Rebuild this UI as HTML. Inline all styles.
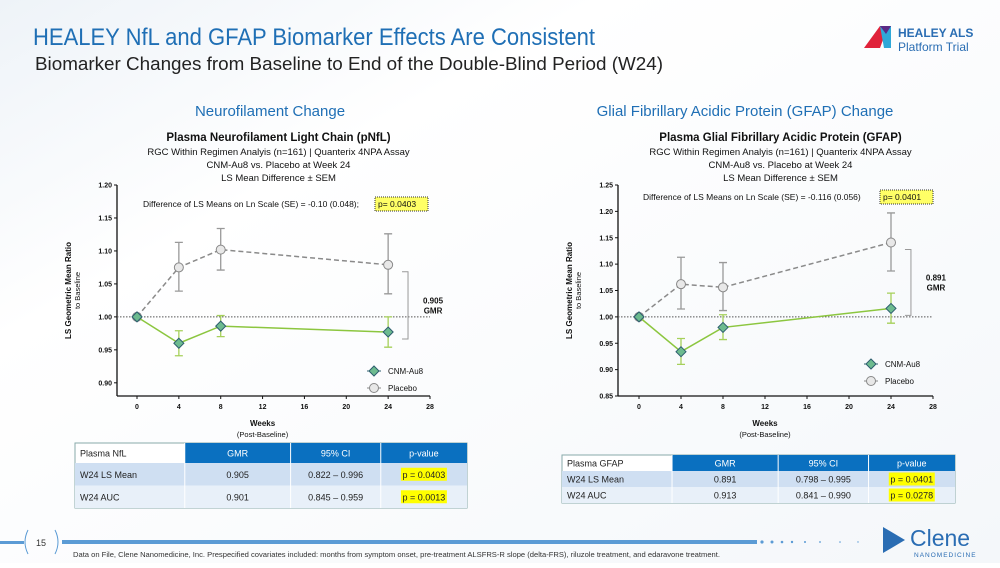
<!DOCTYPE html>
<html><head><meta charset="utf-8"><style>
body{margin:0;width:1000px;height:563px;overflow:hidden;background:#fff;font-family:"Liberation Sans",sans-serif}
svg text{font-family:"Liberation Sans",sans-serif}
</style></head><body>
<svg id="page" width="1000" height="563" viewBox="0 0 1000 563" xmlns="http://www.w3.org/2000/svg">
<defs><linearGradient id="bg" x1="0" y1="0" x2="1" y2="1"><stop offset="0" stop-color="#eef3f8"/><stop offset="0.3" stop-color="#ffffff"/><stop offset="1" stop-color="#f4f7fa"/></linearGradient></defs>
<rect width="1000" height="563" fill="url(#bg)"/>
<text x="33" y="45" font-size="24" fill="#1f6fb5" textLength="562" lengthAdjust="spacingAndGlyphs">HEALEY NfL and GFAP Biomarker Effects Are Consistent</text>
<text x="35" y="70" font-size="18" fill="#222" textLength="628" lengthAdjust="spacingAndGlyphs">Biomarker Changes from Baseline to End of the Double-Blind Period (W24)</text>
<g>
<polygon points="864,48 880,26 888,26 880,48" fill="#e0223a"/><polygon points="880,26 891,26 891,48 884,48" fill="#2fa8d8"/><polygon points="880,26 891,26 886,34" fill="#5b2a86"/>
<text x="898" y="37" font-size="12" font-weight="bold" fill="#2a6db3">HEALEY ALS</text>
<text x="898" y="51" font-size="12" fill="#2a6db3">Platform Trial</text></g>
<text x="270" y="116" font-size="15" fill="#1f6fb5" text-anchor="middle">Neurofilament Change</text>
<text x="745" y="116" font-size="15" fill="#1f6fb5" text-anchor="middle">Glial Fibrillary Acidic Protein (GFAP) Change</text>
<g id="chart1"></g>
<g id="chart2"></g>
<g id="tables"></g>
<g>
<rect x="0" y="541" width="24" height="3" fill="#5b9bd5"/>
<path d="M28,530 Q22,542 28,554 M55,530 Q61,542 55,554" stroke="#5b9bd5" fill="none"/>
<text x="41" y="546" font-size="9" fill="#333" text-anchor="middle">15</text>
<rect x="62" y="540" width="695" height="4" fill="#5b9bd5"/>
<g fill="#5b9bd5"><circle cx="762" cy="542" r="1.6"/><circle cx="772" cy="542" r="1.5"/><circle cx="782" cy="542" r="1.3"/><circle cx="792" cy="542" r="1.2"/><circle cx="805" cy="542" r="1"/><circle cx="820" cy="542" r="0.9"/><circle cx="840" cy="542" r="0.8"/><circle cx="858" cy="542" r="0.7"/></g>
<text x="73" y="557" font-size="7.2" fill="#333" textLength="647" lengthAdjust="spacingAndGlyphs">Data on File, Clene Nanomedicine, Inc. Prespecified covariates included: months from symptom onset, pre-treatment ALSFRS-R slope (delta-FRS), riluzole treatment, and edaravone treatment.</text>
<g><polygon points="883,527 905,540 883,553" fill="#2a6db3"/>
<text x="910" y="546" font-size="23" fill="#2a6db3">Clene</text>
<text x="914" y="557" font-size="6.5" fill="#2a6db3" letter-spacing="1">NANOMEDICINE</text></g>
</g>
</svg>
<script>
const NS='http://www.w3.org/2000/svg';
// NfL chart data
const weeks=[0,4,8,24];
const xTicks=[0,4,8,12,16,20,24,28];
const nflCnm=[1.0,0.960,0.986,0.977];
const nflCnmLo=[1.0,0.941,0.970,0.954];
const nflCnmHi=[1.0,0.979,1.002,1.000];
const nflPbo=[1.0,1.075,1.102,1.079];
const nflPboLo=[1.0,1.039,1.071,1.035];
const nflPboHi=[1.0,1.113,1.134,1.126];
const nflYTicks=[0.90,0.95,1.00,1.05,1.10,1.15,1.20];
// GFAP chart data
const gfapCnm=[1.0,0.934,0.980,1.016];
const gfapCnmLo=[1.0,0.910,0.957,0.988];
const gfapCnmHi=[1.0,0.959,1.004,1.045];
const gfapPbo=[1.0,1.062,1.056,1.141];
const gfapPboLo=[1.0,1.015,1.012,1.087];
const gfapPboHi=[1.0,1.113,1.103,1.197];
const gfapYTicks=[0.85,0.90,0.95,1.00,1.05,1.10,1.15,1.20,1.25];

function mk(p,tag,a,txt){const e=document.createElementNS(NS,tag);for(const k in a)e.setAttribute(k,a[k]);if(txt!==undefined)e.textContent=txt;p.appendChild(e);return e;}

function chart(g,o){
  const X=w=>o.x0+(w-0)*(o.x28-o.x0)/28;
  const Y=v=>o.yBot+(v-o.yMin)*(o.yTop-o.yBot)/(o.yMax-o.yMin);
  const cx=(o.axL+o.x28)/2;
  let t=mk(g,'text',{x:cx+5,y:141,'font-size':11.5,'font-weight':'bold','text-anchor':'middle',fill:'#111'},o.title);
  
  
  ['RGC Within Regimen Analyis (n=161) | Quanterix 4NPA Assay','CNM-Au8 vs. Placebo at Week 24','LS Mean Difference ± SEM'].forEach((s,i)=>{
    let e=mk(g,'text',{x:cx+5,y:155+i*13,'font-size':9.5,'text-anchor':'middle',fill:'#111'},s);
    
    
  });
  mk(g,'line',{x1:o.axL,y1:Y(o.yMax),x2:o.axL,y2:o.yBot,stroke:'#111','stroke-width':1.3});
  mk(g,'line',{x1:o.axL,y1:o.yBot,x2:X(28),y2:o.yBot,stroke:'#111','stroke-width':1.3});
  o.yt.forEach(v=>{mk(g,'line',{x1:o.axL-3,y1:Y(v),x2:o.axL,y2:Y(v),stroke:'#111'});
    let e=mk(g,'text',{x:o.axL-5,y:Y(v)+2.5,'font-size':7,'font-weight':'bold','text-anchor':'end',fill:'#111'},v.toFixed(2));
    
    });
  xTicks.forEach(w=>{mk(g,'line',{x1:X(w),y1:o.yBot,x2:X(w),y2:o.yBot+3,stroke:'#111'});
    let e=mk(g,'text',{x:X(w),y:o.yBot+13,'font-size':7,'font-weight':'bold','text-anchor':'middle',fill:'#111'},w);
    
    });
  let xl=mk(g,'text',{x:X(12),y:o.yBot+30,'font-size':8,'font-weight':'bold','text-anchor':'middle',fill:'#111'},'Weeks');
  
  
  mk(g,'text',{x:X(12),y:o.yBot+41,'font-size':7.5,'text-anchor':'middle',fill:'#111'},'(Post-Baseline)');
  const ym=(Y(o.yMax)+o.yBot)/2;
  let yl=mk(g,'text',{x:0,y:0,'font-size':8,'font-weight':'bold','text-anchor':'middle',fill:'#111',transform:`translate(${o.axL-46},${ym}) rotate(-90)`},'LS Geometric Mean Ratio');
  
  
  mk(g,'text',{x:0,y:0,'font-size':7.5,'text-anchor':'middle',fill:'#111',transform:`translate(${o.axL-37},${ym}) rotate(-90)`},'to Baseline');
  mk(g,'line',{x1:o.axL,y1:Y(1),x2:X(28),y2:Y(1),stroke:'#555','stroke-dasharray':'1.5,1.5'});
  let an=mk(g,'text',{x:o.annX,y:o.annY,'font-size':8.5,fill:'#111'},o.ann);
  
  
  mk(g,'rect',{x:o.pX,y:o.annY-10,width:53,height:14,fill:'#ffff66',stroke:'#333','stroke-dasharray':'1,1'});
  mk(g,'text',{x:o.pX+3,y:o.annY,'font-size':8.5,fill:'#111'},o.p);
  const bx=X(25.9);
  mk(g,'path',{d:`M${bx-6},${Y(o.pbo[3])+7} H${bx} V${Y(o.cnm[3])+7} H${bx-6}`,fill:'none',stroke:'#999'});
  mk(g,'text',{x:bx+25,y:(Y(o.pbo[3])+Y(o.cnm[3]))/2+5,'font-size':8,'font-weight':'bold','text-anchor':'middle',fill:'#111'},o.gmr);
  mk(g,'text',{x:bx+25,y:(Y(o.pbo[3])+Y(o.cnm[3]))/2+15,'font-size':8,'font-weight':'bold','text-anchor':'middle',fill:'#111'},'GMR');
  function series(v,lo,hi,col,ecol,dash,name,shape){
    weeks.forEach((w,i)=>{if(i===0)return;const x=X(w);
      let e=mk(g,'path',{d:`M${x},${Y(lo[i])}V${Y(hi[i])}M${x-4},${Y(lo[i])}h8M${x-4},${Y(hi[i])}h8`,stroke:ecol,'stroke-width':1.3,fill:'none'});
      
      });
    let l=mk(g,'polyline',{points:weeks.map((w,i)=>X(w)+','+Y(v[i])).join(' '),fill:'none',stroke:col,'stroke-width':1.5,'stroke-dasharray':dash});
    
    
    weeks.forEach((w,i)=>{const x=X(w),y=Y(v[i]);let m;
      if(shape==='d')m=mk(g,'polygon',{points:`${x},${y-5} ${x+5},${y} ${x},${y+5} ${x-5},${y}`,fill:'#6dbb8f',stroke:'#2d5e6e','stroke-width':1});
      else m=mk(g,'circle',{cx:x,cy:y,r:4.5,fill:'#e8e8e8',stroke:'#888'});
      
      });
  }
  series(o.pbo,o.pboLo,o.pboHi,'#8a8a8a','#999','5,3','placebo','c');
  series(o.cnm,o.cnmLo,o.cnmHi,'#8cc63f','#a6d05a','','cnm-au8','d');
  const lx=o.legX,ly=o.legY;
  let lg=mk(g,'g',{});
  
  
  mk(lg,'line',{x1:lx-7,y1:ly,x2:lx+7,y2:ly,stroke:'#2d5e6e'});
  mk(lg,'polygon',{points:`${lx},${ly-5} ${lx+5},${ly} ${lx},${ly+5} ${lx-5},${ly}`,fill:'#6dbb8f',stroke:'#2d5e6e'});
  mk(lg,'text',{x:lx+14,y:ly+3,'font-size':8,fill:'#111'},'CNM-Au8');
  mk(lg,'line',{x1:lx-7,y1:ly+17,x2:lx+7,y2:ly+17,stroke:'#888'});
  mk(lg,'circle',{cx:lx,cy:ly+17,r:4.5,fill:'#e8e8e8',stroke:'#888'});
  mk(lg,'text',{x:lx+14,y:ly+20,'font-size':8,fill:'#111'},'Placebo');
}
chart(document.getElementById('chart1'),{title:'Plasma Neurofilament Light Chain (pNfL)',x0:137,x28:430,axL:117,yBot:396,yTop:185,yMin:0.88,yMax:1.20,
  yt:nflYTicks,cnm:nflCnm,cnmLo:nflCnmLo,cnmHi:nflCnmHi,pbo:nflPbo,pboLo:nflPboLo,pboHi:nflPboHi,
  ann:'Difference of LS Means on Ln Scale (SE) = -0.10 (0.048);',annX:143,annY:207,pX:375,p:'p= 0.0403',gmr:'0.905',legX:374,legY:371});
chart(document.getElementById('chart2'),{title:'Plasma Glial Fibrillary Acidic Protein (GFAP)',x0:639,x28:933,axL:618,yBot:396,yTop:185,yMin:0.85,yMax:1.25,
  yt:gfapYTicks,cnm:gfapCnm,cnmLo:gfapCnmLo,cnmHi:gfapCnmHi,pbo:gfapPbo,pboLo:gfapPboLo,pboHi:gfapPboHi,
  ann:'Difference of LS Means on Ln Scale (SE) = -0.116 (0.056)',annX:643,annY:200,pX:880,p:'p= 0.0401',gmr:'0.891',legX:871,legY:364});

function table(g,x,y,w,rh,hh,rows,name){
  const cols=[0,0.28,0.55,0.78,1].map(f=>x+f*w);
  let tg=mk(g,'g',{});
  
  
  mk(tg,'rect',{x:x,y:y,width:w,height:hh+rh*2,fill:'#fff',stroke:'#8aa'});
  mk(tg,'rect',{x:cols[1],y:y,width:cols[4]-cols[1],height:hh,fill:'#0a70c0'});
  mk(tg,'rect',{x:x,y:y+hh,width:w,height:rh,fill:'#cfdff2'});
  mk(tg,'rect',{x:x,y:y+hh+rh,width:w,height:rh,fill:'#e8f0f9'});
  for(let i=1;i<4;i++)mk(tg,'line',{x1:cols[i],y1:y,x2:cols[i],y2:y+hh+2*rh,stroke:'#fff'});
  rows.forEach((r,ri)=>{const cy=y+(ri===0?hh/2:hh+rh*(ri-0.5))+3.5;
    r.forEach((c,ci)=>{
      if(ci===3&&ri>0)mk(tg,'rect',{x:(cols[3]+cols[4])/2-23,y:cy-10,width:46,height:13,fill:'#ffff00'});
      mk(tg,'text',{x:ci===0?x+5:(cols[ci]+cols[ci+1])/2,y:cy,'font-size':9,'text-anchor':ci===0?'start':'middle',fill:ri===0&&ci>0?'#fff':'#222'},c);});});
}
const T=document.getElementById('tables');
table(T,75,443,392,22.5,20,[['Plasma NfL','GMR','95% CI','p-value'],['W24 LS Mean','0.905','0.822 – 0.996','p = 0.0403'],['W24 AUC','0.901','0.845 – 0.959','p = 0.0013']],'nfl-table');
table(T,562,455,393,16,16,[['Plasma GFAP','GMR','95% CI','p-value'],['W24 LS Mean','0.891','0.798 – 0.995','p = 0.0401'],['W24 AUC','0.913','0.841 – 0.990','p = 0.0278']],'gfap-table');
</script>
</body></html>
